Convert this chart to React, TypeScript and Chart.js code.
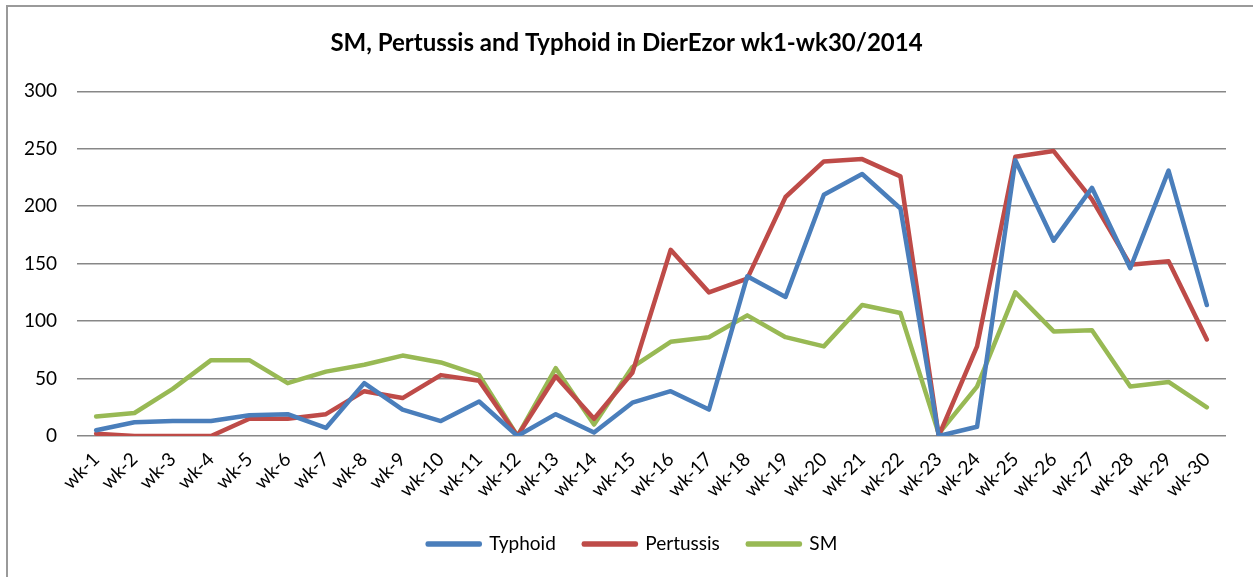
import React, { useEffect, useRef } from "react";
import { Chart, registerables } from "chart.js";

Chart.register(...registerables);

const weeks = [
  "wk-1", "wk-2", "wk-3", "wk-4", "wk-5", "wk-6", "wk-7", "wk-8", "wk-9", "wk-10",
  "wk-11", "wk-12", "wk-13", "wk-14", "wk-15", "wk-16", "wk-17", "wk-18", "wk-19", "wk-20",
  "wk-21", "wk-22", "wk-23", "wk-24", "wk-25", "wk-26", "wk-27", "wk-28", "wk-29", "wk-30",
];

const typhoid = [5, 12, 13, 13, 18, 19, 7, 46, 23, 13, 30, 0, 19, 3, 29, 39, 23, 139, 121, 210, 228, 198, 0, 8, 240, 170, 216, 146, 231, 114];
const pertussis = [2, 0, 0, 0, 15, 15, 19, 39, 33, 53, 48, 0, 52, 15, 55, 162, 125, 137, 208, 239, 241, 226, 0, 78, 243, 248, 206, 149, 152, 84];
const sm = [17, 20, 41, 66, 66, 46, 56, 62, 70, 64, 53, 0, 59, 10, 60, 82, 86, 105, 86, 78, 114, 107, 2, 43, 125, 91, 92, 43, 47, 25];

const titleText = "SM, Pertussis and Typhoid in DierEzor wk1-wk30/2014";
const yMin = 0;
const yMax = 300;
const yStep = 50;

const FONT = "Lato";

const boxShift = {
  id: "boxShift",
  afterLayout(chart: any) {
    const lg = chart.legend;
    if (lg) {
      lg.left += 16;
      lg.right += 16;
    }
    const tt = chart.titleBlock;
    if (tt) {
      tt.left += 10;
      tt.right += 10;
    }
  },
};

export default function App() {
  const ref = useRef<HTMLCanvasElement>(null);

  useEffect(() => {
    const tickFont = { family: FONT, size: 19 };
    const line = (label: string, data: number[], color: string) => ({
      label,
      data,
      borderColor: color,
      backgroundColor: color,
      borderWidth: 4.5,
      pointRadius: 0,
      pointHoverRadius: 0,
      tension: 0,
      borderJoinStyle: "round" as const,
      borderCapStyle: "round" as const,
    });
    const chart = new Chart(ref.current!, {
      type: "line",
      data: {
        labels: weeks,
        datasets: [
          line("Typhoid", typhoid, "#4A7EBB"),
          line("Pertussis", pertussis, "#BE4B48"),
          line("SM", sm, "#98B954"),
        ],
      },
      plugins: [boxShift],
      options: {
        responsive: false,
        animation: false,
        devicePixelRatio: 1,
        layout: { padding: { left: 7, right: 27, top: 0, bottom: 13.5 } },
        plugins: {
          title: {
            display: true,
            text: titleText,
            color: "#000",
            font: { family: FONT, size: 24, weight: "bold" },
            padding: { top: 28.5, bottom: 34 },
          },
          legend: {
            position: "bottom",
            labels: {
              boxWidth: 52,
              boxHeight: 1,
              color: "#000",
              font: tickFont,
              padding: 28,
            },
          },
          tooltip: { enabled: false },
        },
        scales: {
          x: {
            offset: true,
            grid: { display: false },
            border: { display: false },
            ticks: {
              minRotation: 45,
              maxRotation: 45,
              autoSkip: false,
              color: "#000",
              font: tickFont,
              padding: 4,
            },
            afterFit: (s: any) => {
              s.height = 70.5;
            },
          },
          y: {
            min: yMin,
            max: yMax,
            ticks: { stepSize: yStep, color: "#000", font: tickFont, padding: 20 },
            grid: { color: "#878787", lineWidth: 1.5, drawTicks: false },
            border: { display: false },
            afterFit: (s: any) => {
              s.width = 70;
            },
          },
        },
      },
    });
    return () => chart.destroy();
  }, []);

  return (
    <div style={{ position: "fixed", left: 0, top: 0, width: 1253, height: 577, background: "#fff", overflow: "hidden" }}>
      <div
        style={{
          position: "absolute",
          left: 6,
          top: 5,
          width: 1300,
          height: 700,
          border: "2px solid #9a9a9a",
          boxSizing: "border-box",
        }}
      />
      <canvas ref={ref} width={1253} height={577} style={{ position: "absolute", left: 0, top: 0 }} />
    </div>
  );
}
